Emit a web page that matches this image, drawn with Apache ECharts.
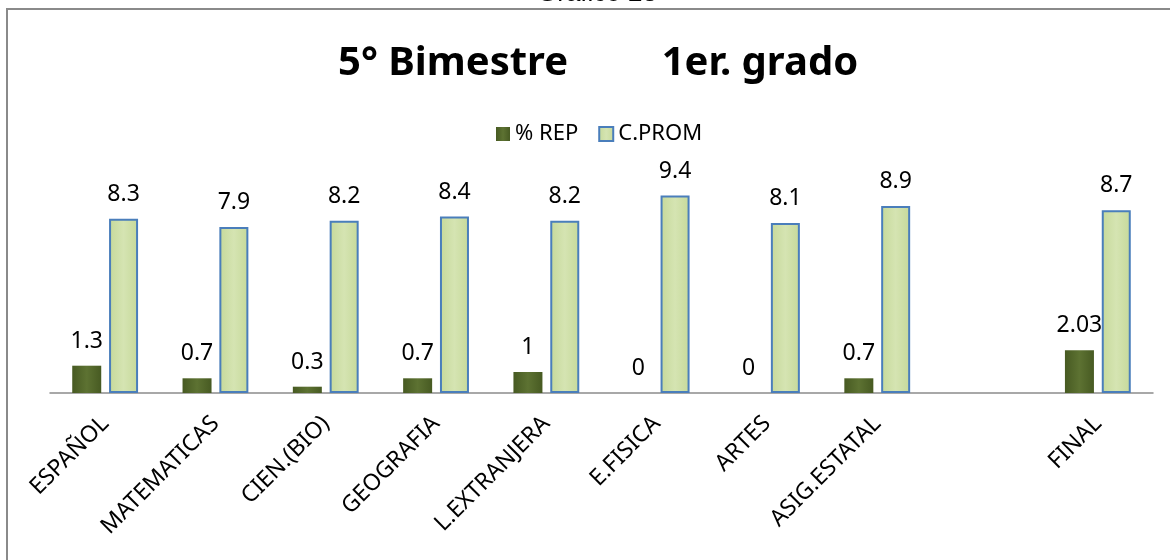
<!DOCTYPE html>
<html>
<head>
<meta charset="utf-8">
<script src="https://cdn.jsdelivr.net/npm/echarts@6/dist/echarts.min.js"></script>
<style>
html,body{margin:0;padding:0;background:#fff;}
#chart{width:1170px;height:560px;}
</style>
</head>
<body>
<div id="chart"></div>
<script>
const categories = ['ESPAÑOL','MATEMATICAS','CIEN.(BIO)','GEOGRAFIA','L.EXTRANJERA','E.FISICA','ARTES','ASIG.ESTATAL','','FINAL'];
const repValues = [1.3, 0.7, 0.3, 0.7, 1, 0, 0, 0.7, null, 2.03];
const promValues = [8.3, 7.9, 8.2, 8.4, 8.2, 9.4, 8.1, 8.9, null, 8.7];
const seriesNames = ['% REP', 'C.PROM'];
const chartTitle = '5° Bimestre         1er. grado';
const captionText = 'Gráfico 23';

const FONT = "'Noto Sans', 'DejaVu Sans', sans-serif";
const chart = echarts.init(document.getElementById('chart'));

const valueLabel = {
  show: true,
  position: 'top',
  distance: 13,
  color: '#000',
  fontFamily: FONT,
  fontSize: 23,
  formatter: p => (p.value === null || p.value === undefined) ? '' : String(p.value)
};

chart.setOption({
  backgroundColor: '#fff',
  animation: false,
  graphic: [
    {
      type: 'rect',
      z: -10,
      shape: { x: 7, y: 9, width: 1300, height: 700 },
      style: { fill: 'none', stroke: '#8a8a8a', lineWidth: 2 }
    },
    {
      type: 'text',
      x: 597, y: 7,
      style: {
        text: captionText,
        fontFamily: "'Liberation Sans', Arial, sans-serif",
        fontSize: 26,
        fill: '#000',
        align: 'center',
        verticalAlign: 'bottom'
      }
    }
  ],
  title: {
    text: chartTitle,
    left: 333,
    top: 39,
    textStyle: { fontFamily: FONT, fontSize: 40, fontWeight: 'bold', color: '#000' }
  },
  legend: {
    left: 491,
    top: 118,
    itemWidth: 14,
    itemHeight: 14,
    itemGap: 20,
    icon: 'rect',
    textStyle: { fontFamily: FONT, fontSize: 22, color: '#000' },
    data: seriesNames
  },
  grid: { left: 50, right: 17, top: 183, bottom: 167 },
  xAxis: {
    type: 'category',
    data: categories,
    axisLine: { show: true, lineStyle: { color: '#8c8c8c', width: 1.5 } },
    axisTick: { show: false },
    axisLabel: {
      interval: 0,
      rotate: 45,
      margin: 27,
      color: '#000',
      fontFamily: FONT,
      fontSize: 23
    }
  },
  yAxis: {
    type: 'value',
    min: 0,
    max: 10,
    show: false,
    splitLine: { show: false }
  },
  series: [
    {
      name: seriesNames[0],
      type: 'bar',
      data: repValues,
      barWidth: 29,
      barGap: '27%',
      itemStyle: {
        color: new echarts.graphic.LinearGradient(0, 0, 1, 0, [
          { offset: 0, color: '#475a22' },
          { offset: 0.5, color: '#5d7232' },
          { offset: 1, color: '#475a22' }
        ]),
        borderWidth: 0
      },
      label: valueLabel
    },
    {
      name: seriesNames[1],
      type: 'bar',
      data: promValues,
      barWidth: 29,
      itemStyle: {
        color: new echarts.graphic.LinearGradient(0, 0, 1, 0, [
          { offset: 0, color: '#c6d99a' },
          { offset: 0.5, color: '#d5e4b2' },
          { offset: 1, color: '#c6d99a' }
        ]),
        borderColor: '#4a7ebb',
        borderWidth: 2
      },
      label: valueLabel
    }
  ]
});
</script>
</body>
</html>
